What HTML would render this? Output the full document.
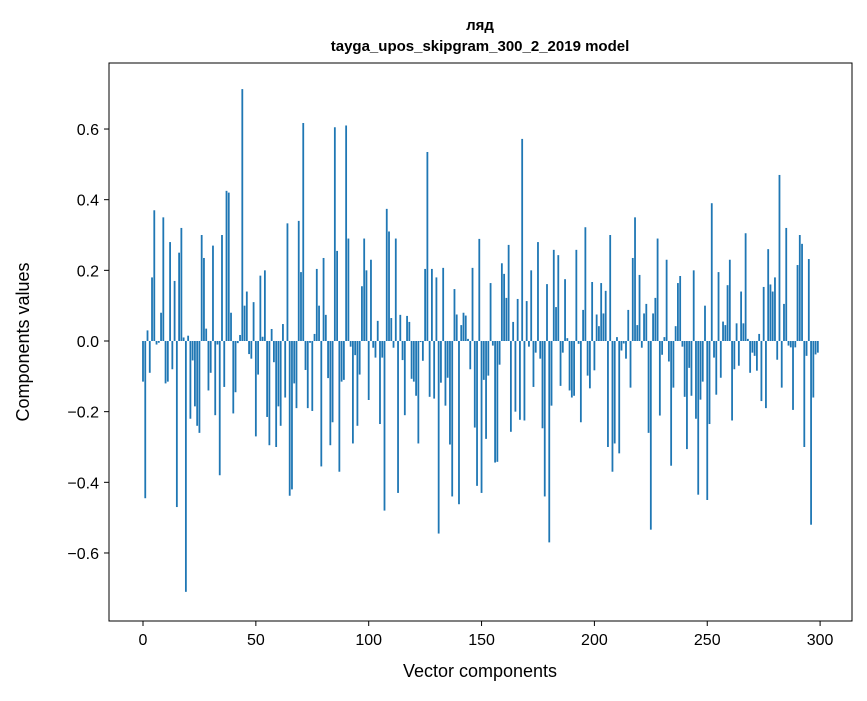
<!DOCTYPE html>
<html><head><meta charset="utf-8"><style>
body{margin:0;background:#fff}
svg text{font-family:"Liberation Sans","DejaVu Sans",sans-serif;fill:#000}
</style></head><body>
<svg id="chart" width="867" height="696" xmlns="http://www.w3.org/2000/svg">
<rect width="867" height="696" fill="#fff"/>
<text x="480" y="30" text-anchor="middle" font-size="15" font-weight="bold">ляд</text>
<text x="480" y="51" text-anchor="middle" font-size="15" font-weight="bold">tayga_upos_skipgram_300_2_2019 model</text>
<g id="bars"></g>
<g id="axes"></g>
<rect x="109" y="63" width="743" height="558" fill="none" stroke="#000" stroke-width="1"/>
<text x="480" y="677" text-anchor="middle" font-size="18">Vector components</text>
<text transform="translate(29,342) rotate(-90)" text-anchor="middle" font-size="18">Components values</text>
</svg>
<script>
const values = [
-0.115,-0.445,0.03,-0.09,0.18,0.37,-0.01,-0.005,0.08,0.35,
-0.12,-0.115,0.28,-0.08,0.17,-0.47,0.25,0.32,0.01,-0.71,
0.015,-0.22,-0.055,-0.185,-0.24,-0.26,0.30,0.235,0.035,-0.14,
-0.09,0.27,-0.21,-0.01,-0.38,0.30,-0.13,0.425,0.42,0.08,
-0.205,-0.145,-0.006,0.017,0.713,0.10,0.14,-0.037,-0.05,0.11,
-0.27,-0.095,0.185,0.012,0.2,-0.215,-0.295,0.034,-0.06,-0.30,
-0.185,-0.24,0.048,-0.16,0.333,-0.438,-0.42,-0.12,-0.19,0.34,
0.195,0.617,-0.082,-0.19,-0.005,-0.198,0.02,0.204,0.1,-0.355,
0.235,0.074,-0.105,-0.295,-0.23,0.605,0.255,-0.37,-0.115,-0.11,
0.61,0.29,-0.016,-0.29,-0.04,-0.24,-0.095,0.155,0.29,0.2,
-0.167,0.23,-0.019,-0.047,0.057,-0.235,-0.047,-0.48,0.374,0.31,
0.065,-0.019,0.29,-0.43,0.074,-0.054,-0.21,0.071,0.054,-0.107,
-0.115,-0.155,-0.29,-0.003,-0.056,0.204,0.535,-0.158,0.204,-0.163,
0.18,-0.545,-0.118,0.207,-0.183,-0.104,-0.293,-0.44,0.147,0.075,
-0.462,0.045,0.08,0.072,0.006,-0.08,0.207,-0.245,-0.41,0.289,
-0.43,-0.11,-0.277,-0.098,0.164,-0.013,-0.344,-0.342,-0.067,0.22,
0.19,0.122,0.272,-0.257,0.054,-0.2,0.119,-0.223,0.572,-0.225,
0.113,-0.016,0.2,-0.13,-0.033,0.28,-0.05,-0.247,-0.44,0.161,
-0.57,-0.183,0.258,0.096,0.243,-0.127,-0.033,0.175,0.008,-0.14,
-0.16,-0.155,0.258,-0.008,-0.23,0.088,0.322,-0.098,-0.134,0.167,
-0.083,0.075,0.042,0.164,0.078,0.142,-0.30,0.30,-0.37,-0.29,
0.011,-0.318,-0.027,-0.007,-0.05,0.088,-0.132,0.235,0.35,0.045,
0.187,-0.019,0.078,0.105,-0.26,-0.534,0.078,0.122,0.29,-0.211,
-0.039,0.011,0.23,-0.058,-0.353,-0.132,0.042,0.164,0.184,-0.016,
-0.158,-0.306,-0.076,-0.155,0.2,-0.22,-0.435,-0.166,-0.115,0.1,
-0.45,-0.235,0.39,-0.047,-0.152,0.195,-0.104,0.055,0.045,0.158,
0.23,-0.225,-0.08,0.05,-0.07,0.14,0.05,0.305,0.006,-0.09,
-0.033,-0.042,-0.084,0.02,-0.17,0.153,-0.19,0.26,0.16,0.14,
0.18,-0.053,0.47,-0.132,0.105,0.32,-0.013,-0.018,-0.195,-0.018,
0.215,0.3,0.275,-0.3,-0.042,0.232,-0.52,-0.16,-0.038,-0.033
];
const xTicks = [0,50,100,150,200,250,300];
const yTicks = [-0.6,-0.4,-0.2,0.0,0.2,0.4,0.6];

const NS = "http://www.w3.org/2000/svg";
function xs(i){ return 143 + 2.257*i; }
function ys(v){ return 341 - v*353.3; }
const bars = document.getElementById('bars');
values.forEach((v,i)=>{
  const r = document.createElementNS(NS,'rect');
  
  
  const y0 = ys(0), y1 = ys(v);
  r.setAttribute('x', xs(i) - 0.9);
  r.setAttribute('width', 1.8);
  r.setAttribute('y', Math.min(y0,y1));
  r.setAttribute('height', Math.max(Math.abs(y1-y0), 0.3));
  r.setAttribute('fill', '#1f77b4');
  bars.appendChild(r);
});
const axes = document.getElementById('axes');
function fmt(v){ const s = Math.abs(v).toFixed(1); return (v < -1e-9 ? '\u2212' : '') + s; }
xTicks.forEach(t=>{
  const l = document.createElementNS(NS,'line');
  
  
  l.setAttribute('x1', xs(t)); l.setAttribute('x2', xs(t));
  l.setAttribute('y1', 621); l.setAttribute('y2', 626);
  l.setAttribute('stroke', '#000');
  axes.appendChild(l);
  const tx = document.createElementNS(NS,'text');
  
  
  tx.setAttribute('x', xs(t)); tx.setAttribute('y', 645);
  tx.setAttribute('text-anchor', 'middle'); tx.setAttribute('font-size', '16');
  tx.textContent = t;
  axes.appendChild(tx);
});
yTicks.forEach(t=>{
  const l = document.createElementNS(NS,'line');
  
  
  l.setAttribute('x1', 104); l.setAttribute('x2', 109);
  l.setAttribute('y1', ys(t)); l.setAttribute('y2', ys(t));
  l.setAttribute('stroke', '#000');
  axes.appendChild(l);
  const tx = document.createElementNS(NS,'text');
  
  
  tx.setAttribute('x', 99); tx.setAttribute('y', ys(t) + 6);
  tx.setAttribute('text-anchor', 'end'); tx.setAttribute('font-size', '16');
  tx.textContent = fmt(t);
  axes.appendChild(tx);
});
</script>
</body></html>
